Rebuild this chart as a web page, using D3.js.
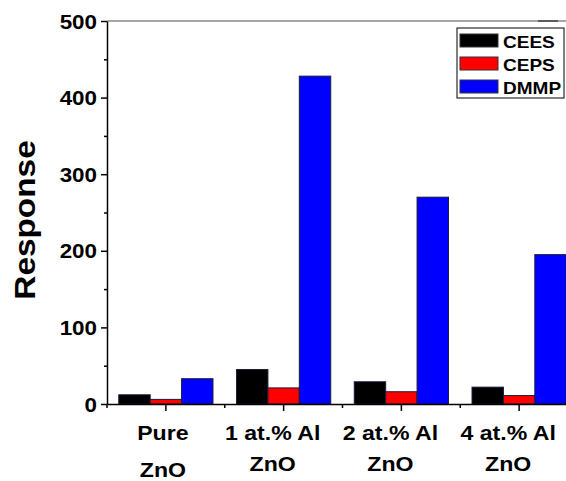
<!DOCTYPE html>
<html>
<head>
<meta charset="utf-8">
<script src="https://cdn.jsdelivr.net/npm/d3@7"></script>
<style>
  body { margin: 0; background: #fff; }
  svg { font-family: Arial, "Liberation Sans", sans-serif; font-weight: bold; }
  .axis path, .axis line { stroke: #000; }
</style>
</head>
<body>
<div id="chart"></div>
<script>
// Data.
var groups = ['Pure ZnO', '1 at.% Al ZnO', '2 at.% Al ZnO', '4 at.% Al ZnO'];
var groupLines = [['Pure', 'ZnO'], ['1 at.% Al', 'ZnO'], ['2 at.% Al', 'ZnO'], ['4 at.% Al', 'ZnO']];
var series = ['CEES', 'CEPS', 'DMMP'];
var colors = ['#000000', '#ff0000', '#0000ff'];
var cees = [12, 45, 29, 22];
var ceps = [6, 21, 16, 11];
var dmmp = [33, 428, 270, 195];
var yTicks = [0, 100, 200, 300, 400, 500];
var yMinor = [50, 150, 250, 350, 450];

var W = 566, H = 481;
var m = { left: 107, top: 21, bottom: 404, right: 578 };

var svg = d3.select('#chart').append('svg')
    .attr('width', W)
    .attr('height', H);

var values = [cees, ceps, dmmp];
var rows = groups.map(function(g, i) {
    return { group: g, vals: series.map(function(s, j) { return { key: s, value: values[j][i], color: colors[j] }; }) };
});

var x0 = d3.scaleBand().domain(groups).range([m.left, m.right]);
var x1 = d3.scaleBand().domain(series)
    .range([x0.bandwidth() * 0.1, x0.bandwidth() * 0.9]);
var y = d3.scaleLinear().domain([0, 500]).range([m.bottom, m.top]);

// Top frame line.
svg.append('line')
    .attr('x1', m.left).attr('x2', W)
    .attr('y1', m.top).attr('y2', m.top)
    .attr('stroke', '#8a8a8a').attr('stroke-width', 1.5);
svg.append('line')
    .attr('x1', 538).attr('x2', 558)
    .attr('y1', m.top).attr('y2', m.top)
    .attr('stroke', '#444').attr('stroke-width', 1.5);

// Bars.
svg.append('g').selectAll('g')
    .data(rows)
    .join('g')
    .attr('transform', function(d) { return 'translate(' + x0(d.group) + ',0)'; })
    .selectAll('rect')
    .data(function(d) { return d.vals; })
    .join('rect')
    .attr('x', function(d) { return x1(d.key); })
    .attr('width', x1.bandwidth())
    .attr('y', function(d) { return y(d.value); })
    .attr('height', function(d) { return y(0) - y(d.value); })
    .attr('fill', function(d) { return d.color; })
    .attr('stroke', '#1a1a3a')
    .attr('stroke-width', 1);

// Y axis.
svg.append('g')
    .attr('class', 'axis y')
    .attr('transform', 'translate(' + m.left + ',0)')
    .call(d3.axisLeft(y).tickValues(yTicks).tickSize(6).tickSizeOuter(0))
    .call(function(g) {
        g.selectAll('text')
            .attr('font-size', 20).attr('font-family', null)
            .attr('x', null).attr('dy', null)
            .attr('transform', 'translate(-10,7) scale(1.12,1)');
        g.select('.domain').attr('stroke-width', 1.5);
        g.selectAll('line').attr('stroke-width', 1.5);
    });
svg.append('g')
    .attr('class', 'axis y minor')
    .attr('transform', 'translate(' + m.left + ',0)')
    .call(d3.axisLeft(y).tickValues(yMinor).tickSize(3).tickFormat(''))
    .call(function(g) {
        g.select('.domain').remove();
        g.selectAll('line').attr('stroke-width', 1.5);
    });

// X axis: major ticks at group centres, minor ticks at group edges.
svg.append('g')
    .attr('class', 'axis x')
    .attr('transform', 'translate(0,' + m.bottom + ')')
    .call(d3.axisBottom(x0).tickSize(7).tickSizeOuter(0).tickFormat(''))
    .call(function(g) {
        g.select('.domain').attr('stroke-width', 1.5).attr('stroke', '#222');
        g.selectAll('line').attr('stroke-width', 1.5);
    });
svg.append('g')
    .attr('class', 'axis x minor')
    .selectAll('line')
    .data(groups)
    .join('line')
    .attr('x1', function(d) { return x0(d); })
    .attr('x2', function(d) { return x0(d); })
    .attr('y1', m.bottom).attr('y2', m.bottom + 4)
    .attr('stroke', '#000').attr('stroke-width', 1.5);

// X labels, two lines each (sit a little left of the tick in the original).
var lab = svg.append('g').selectAll('g')
    .data(groups)
    .join('g')
    .attr('transform', function(d, i) {
        return 'translate(' + (x0(d) + x0.bandwidth() / 2 - (i === 0 ? 3 : 11)) + ',0)';
    });
lab.append('text')
    .attr('text-anchor', 'middle')
    .attr('font-size', 21)
    .attr('transform', 'translate(0,440) scale(1.1,1)')
    .text(function(d, i) { return groupLines[i][0]; });
lab.append('text')
    .attr('text-anchor', 'middle')
    .attr('font-size', 21)
    .attr('transform', function(d, i) { return 'translate(0,' + (i === 0 ? 477 : 471) + ') scale(1.1,1)'; })
    .text(function(d, i) { return groupLines[i][1]; });

// Y label.
svg.append('text')
    .attr('transform', 'translate(35,220) rotate(-90) scale(1.15,1)')
    .attr('text-anchor', 'middle')
    .attr('font-size', 29)
    .text('Response');

// Legend.
var legend = svg.append('g').attr('transform', 'translate(457,28)');
legend.append('rect')
    .attr('width', 107).attr('height', 70)
    .attr('fill', '#fff').attr('stroke', '#000').attr('stroke-width', 1);
var item = legend.selectAll('g.item')
    .data(series)
    .join('g')
    .attr('class', 'item')
    .attr('transform', function(d, i) { return 'translate(0,' + (6 + i * 23) + ')'; });
item.append('rect')
    .attr('x', 3).attr('width', 38).attr('height', 13)
    .attr('fill', function(d, i) { return colors[i]; })
    .attr('stroke', '#333').attr('stroke-width', 1);
item.append('text')
    .attr('transform', 'translate(46,14) scale(1.12,1)')
    .attr('font-size', 17)
    .text(function(d) { return d; });
</script>
</body>
</html>
